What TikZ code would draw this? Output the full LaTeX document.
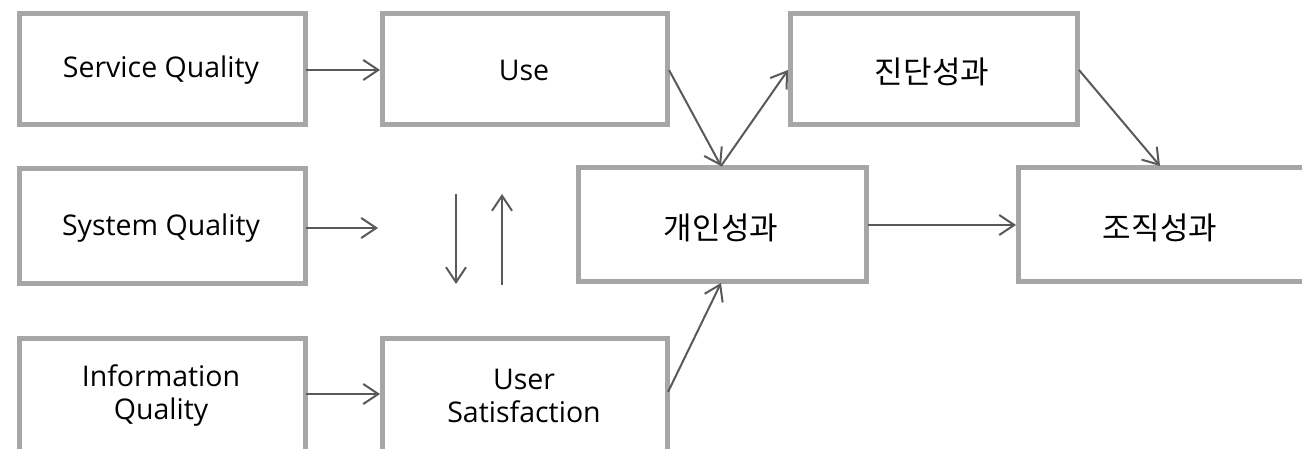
\documentclass[tikz,border=0pt]{standalone}
\usepackage{fontspec}
\setmainfont{Open Sans}
\newfontfamily\kr{Noto Sans CJK KR}
\usetikzlibrary{arrows.meta}
\definecolor{boxgray}{HTML}{A6A6A6}
\definecolor{arrgray}{HTML}{595959}
\begin{document}
\begin{tikzpicture}[x=1pt,y=-1pt,
  boxst/.style={draw=boxgray,line width=5pt,fill=white},
  lbl/.style={font=\fontsize{28.5}{33}\selectfont,align=center,text=black},
  klbl/.style={font=\kr\fontsize{31}{33}\selectfont,text=black},
  conn/.style={draw=arrgray,line width=2pt,-{Straight Barb[length=15pt,width=20pt,line width=2pt]}}]
\useasboundingbox (0,0) rectangle (1302,449);
\fill[white] (0,0) rectangle (1302,449);
% boxes
\draw[boxst] (19,14) rectangle (305,125);
\node[lbl] (sq) at (161,70) {Service Quality};
\draw[boxst] (382,14) rectangle (667,125);
\node[lbl] (use) at (524,70) {Use};
\draw[boxst] (19,169) rectangle (305,284);
\node[lbl] (syq) at (161,228) {System Quality};
\draw[boxst] (19,338) rectangle (305,460);
\node[lbl] (iq) at (161,396) {Information\\Quality};
\draw[boxst] (382,338) rectangle (667,460);
\node[lbl] (us) at (524,396) {User\\Satisfaction};
\draw[boxst] (578,168) rectangle (866,282);
\node[klbl] (ip) at (721,228) {개인성과};
\draw[boxst] (790,14) rectangle (1077,125);
\node[klbl] (dp) at (932,72) {진단성과};
\draw[boxst] (1018,168) rectangle (1320,282);
\node[klbl] (op) at (1160,228) {조직성과};
% connector anchor points
\coordinate (sqE) at (306,70);
\coordinate (useW) at (380,70);
\coordinate (useE) at (669,70);
\coordinate (ipN) at (721,166);
\coordinate (dpW) at (788,70);
\coordinate (dpE) at (1079,70);
\coordinate (opN) at (1160,166);
\coordinate (ipE) at (868,225);
\coordinate (opW) at (1016,225);
\coordinate (syqE) at (306,228);
\coordinate (syqT) at (378,228);
\coordinate (dnA) at (456,194);
\coordinate (dnB) at (456,284);
\coordinate (upA) at (502,285);
\coordinate (upB) at (502,194);
\coordinate (iqE) at (306,394);
\coordinate (usW) at (380,394);
\coordinate (usE) at (668,392);
\coordinate (ipS) at (721,283);
% connectors
\draw[conn] (sqE) -- (useW);
\draw[conn] (useE) -- (ipN);
\draw[conn] (ipN) -- (dpW);
\draw[conn] (dpE) -- (opN);
\draw[conn] (ipE) -- (opW);
\draw[conn] (syqE) -- (syqT);
\draw[conn] (dnA) -- (dnB);
\draw[conn] (upA) -- (upB);
\draw[conn] (iqE) -- (usW);
\draw[conn] (usE) -- (ipS);
\end{tikzpicture}
\end{document}
